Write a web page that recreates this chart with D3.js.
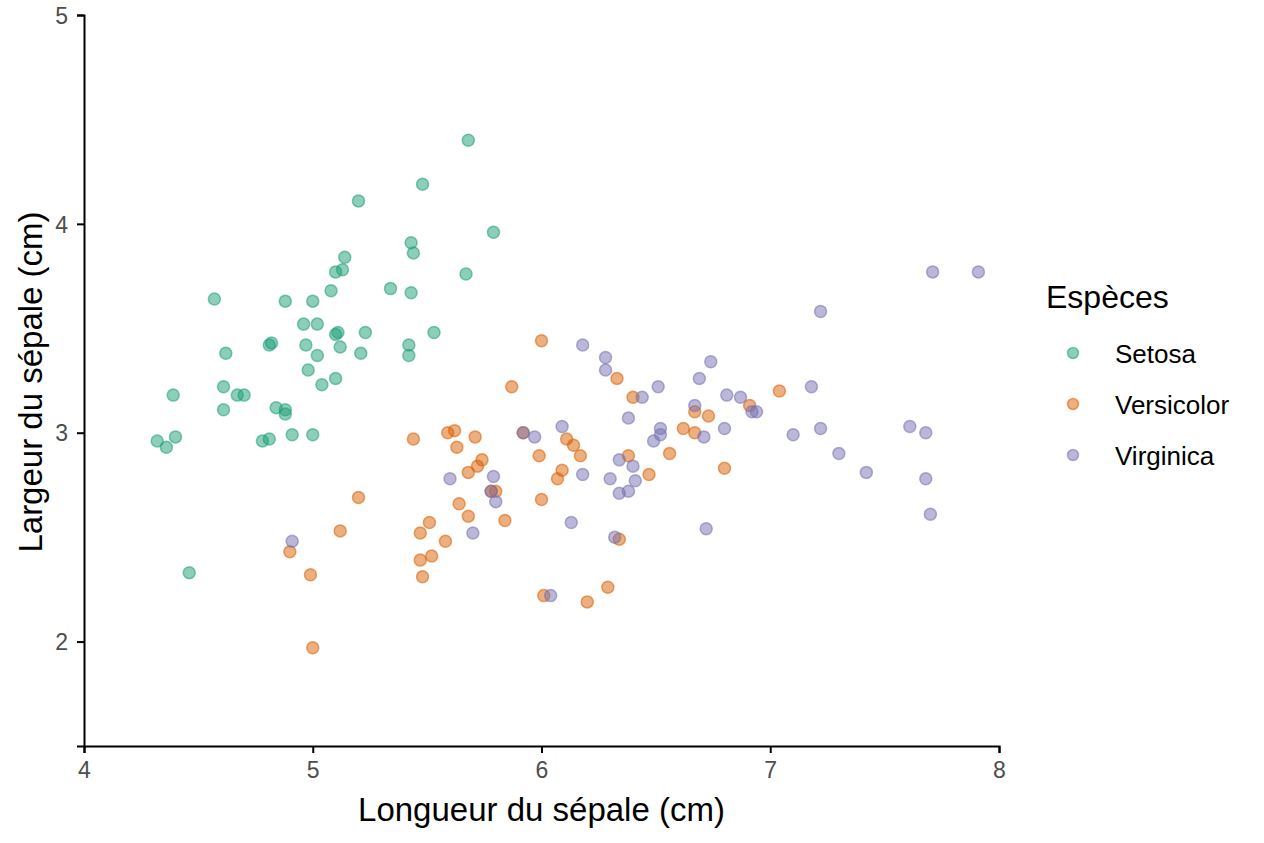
<!DOCTYPE html>
<html>
<head>
<meta charset="utf-8">
<script src="https://cdn.jsdelivr.net/npm/d3@7"></script>
<style>
  body { margin: 0; background: #fff; }
  svg text { font-family: "Liberation Sans", Arial, sans-serif; }
</style>
</head>
<body>
<div id="chart"></div>
<script>
// species and colours (Dark2)
var species = ["Setosa", "Versicolor", "Virginica"];
var colors = ["#1B9E77", "#D95F02", "#7570B3"];

// sepal length / width, jittered
var setosaX = [5.68, 5.48, 5.20, 5.79, 5.43, 5.44, 5.14, 5.13, 5.10, 5.67,
  5.08, 5.43, 5.34, 4.57, 4.88, 5.00, 4.96, 5.02, 5.11, 5.10,
  5.23, 5.53, 5.42, 5.42, 4.97, 4.81, 4.82, 5.12, 5.02, 5.21,
  4.62, 4.98, 5.10, 5.04, 4.61, 4.39, 4.67, 4.70, 4.61, 4.84,
  4.88, 4.88, 4.91, 5.00, 4.32, 4.40, 4.36, 4.78, 4.81, 4.46];
var setosaY = [4.40, 4.19, 4.11, 3.96, 3.91, 3.86, 3.84, 3.78, 3.77, 3.76,
  3.68, 3.67, 3.69, 3.64, 3.63, 3.63, 3.52, 3.52, 3.48, 3.47,
  3.48, 3.48, 3.42, 3.37, 3.42, 3.42, 3.43, 3.41, 3.37, 3.38,
  3.38, 3.30, 3.26, 3.23, 3.22, 3.18, 3.18, 3.18, 3.11, 3.12,
  3.11, 3.09, 2.99, 2.99, 2.96, 2.98, 2.93, 2.96, 2.97, 2.33];

var versicolorX = [6.00, 6.33, 5.87, 6.40, 5.44, 5.59, 5.62, 5.71, 5.63, 6.11,
  6.14, 5.99, 6.17, 6.38, 5.74, 5.72, 5.68, 6.09, 6.07, 5.80,
  5.78, 6.00, 5.20, 5.64, 5.68, 5.84, 5.51, 5.47, 5.58, 5.12,
  4.90, 5.52, 5.47, 5.48, 4.99, 6.34, 6.29, 6.01, 6.20, 5.00,
  6.67, 6.73, 6.91, 7.04, 6.62, 6.67, 6.56, 6.47, 6.80, 5.92];
var versicolorY = [3.44, 3.26, 3.22, 3.17, 2.97, 3.00, 3.01, 2.98, 2.93, 2.97,
  2.94, 2.89, 2.89, 2.89, 2.87, 2.84, 2.81, 2.82, 2.78, 2.72,
  2.72, 2.68, 2.69, 2.66, 2.60, 2.58, 2.57, 2.52, 2.48, 2.53,
  2.43, 2.41, 2.39, 2.31, 2.32, 2.49, 2.26, 2.22, 2.19, 1.97,
  3.10, 3.08, 3.13, 3.20, 3.02, 3.00, 2.90, 2.80, 2.83, 3.00];

var virginicaX = [6.18, 6.28, 6.28, 6.38, 6.09, 5.92, 5.97, 6.34, 6.18, 6.30,
  6.34, 6.38, 5.60, 5.79, 5.78, 5.80, 6.13, 5.70, 4.91, 6.32,
  6.04, 6.74, 6.69, 6.51, 6.44, 6.81, 6.87, 6.92, 6.94, 6.67,
  6.52, 6.52, 6.49, 6.80, 6.71, 7.10, 6.40, 6.41, 6.72, 7.71,
  7.91, 7.22, 7.18, 7.22, 7.61, 7.68, 7.30, 7.42, 7.68, 7.70];
var virginicaY = [3.42, 3.36, 3.30, 3.07, 3.03, 3.00, 2.98, 2.87, 2.80, 2.78,
  2.71, 2.72, 2.78, 2.79, 2.72, 2.67, 2.57, 2.52, 2.48, 2.50,
  2.22, 3.34, 3.26, 3.22, 3.17, 3.18, 3.17, 3.10, 3.10, 3.13,
  3.02, 2.99, 2.96, 3.02, 2.98, 2.99, 2.84, 2.77, 2.54, 3.77,
  3.77, 3.58, 3.22, 3.02, 3.03, 3.00, 2.90, 2.81, 2.78, 2.61];

var xTicks = [4, 5, 6, 7, 8];
var yTicks = [2, 3, 4, 5];

// build point table
var seriesX = [setosaX, versicolorX, virginicaX];
var seriesY = [setosaY, versicolorY, virginicaY];
var points = [];
species.forEach(function(s, k) {
  seriesX[k].forEach(function(v, i) {
    points.push({ sp: s, x: v, y: seriesY[k][i] });
  });
});

var w = 1264, h = 843;
var svg = d3.select("#chart").append("svg")
  .attr("width", w)
  .attr("height", h);

var x = d3.scaleLinear().domain([4, 8]).range([84, 999]);
var y = d3.scaleLinear().domain([1.5, 5]).range([746, 15]);
var color = d3.scaleOrdinal().domain(species).range(colors);

// axes
var xAxis = svg.append("g")
  .attr("transform", "translate(0,746)")
  .call(d3.axisBottom(x).tickValues(xTicks).tickFormat(d3.format("d"))
    .tickSizeOuter(0).tickSize(7).tickPadding(9));
var yAxis = svg.append("g")
  .attr("transform", "translate(84,0)")
  .call(d3.axisLeft(y).tickValues(yTicks).tickFormat(d3.format("d"))
    .tickSizeOuter(0).tickSize(7).tickPadding(9));

[xAxis, yAxis].forEach(function(a) {
  a.attr("font-size", 23).attr("font-family", null);
  a.select(".domain").attr("stroke", "#000").attr("stroke-width", 2);
  a.selectAll(".tick line").attr("stroke", "#000").attr("stroke-width", 2);
  a.selectAll(".tick text").attr("fill", "#4d4d4d");
});
yAxis.selectAll(".tick text").attr("dy", "0.36em");

// points
svg.append("g").selectAll("circle")
  .data(points)
  .enter()
  .append("circle")
  .attr("cx", function(d) { return x(d.x); })
  .attr("cy", function(d) { return y(d.y); })
  .attr("r", 6)
  .attr("fill", function(d) { return color(d.sp); })
  .attr("fill-opacity", 0.5)
  .attr("stroke", function(d) { return color(d.sp); })
  .attr("stroke-opacity", 0.55)
  .attr("stroke-width", 1.5);

// axis titles
svg.append("text")
  .attr("x", 541.5)
  .attr("y", 821)
  .attr("text-anchor", "middle")
  .style("font-size", "33px")
  .text("Longueur du sépale (cm)");

svg.append("text")
  .attr("transform", "translate(42,382) rotate(-90)")
  .attr("text-anchor", "middle")
  .style("font-size", "33px")
  .text("Largeur du sépale (cm)");

// legend
var legend = svg.append("g");
legend.append("text")
  .attr("x", 1046)
  .attr("y", 308)
  .style("font-size", "32px")
  .text("Espèces");

var items = legend.selectAll("g.item")
  .data(species)
  .enter()
  .append("g")
  .attr("class", "item")
  .attr("transform", function(d, i) { return "translate(0," + (353 + i * 51) + ")"; });

items.append("circle")
  .attr("cx", 1073)
  .attr("cy", 0)
  .attr("r", 5.5)
  .attr("fill", function(d) { return color(d); })
  .attr("fill-opacity", 0.5)
  .attr("stroke", function(d) { return color(d); })
  .attr("stroke-opacity", 0.55)
  .attr("stroke-width", 1.5);

items.append("text")
  .attr("x", 1115)
  .attr("y", 10)
  .style("font-size", "26px")
  .text(function(d) { return d; });
</script>
</body>
</html>
